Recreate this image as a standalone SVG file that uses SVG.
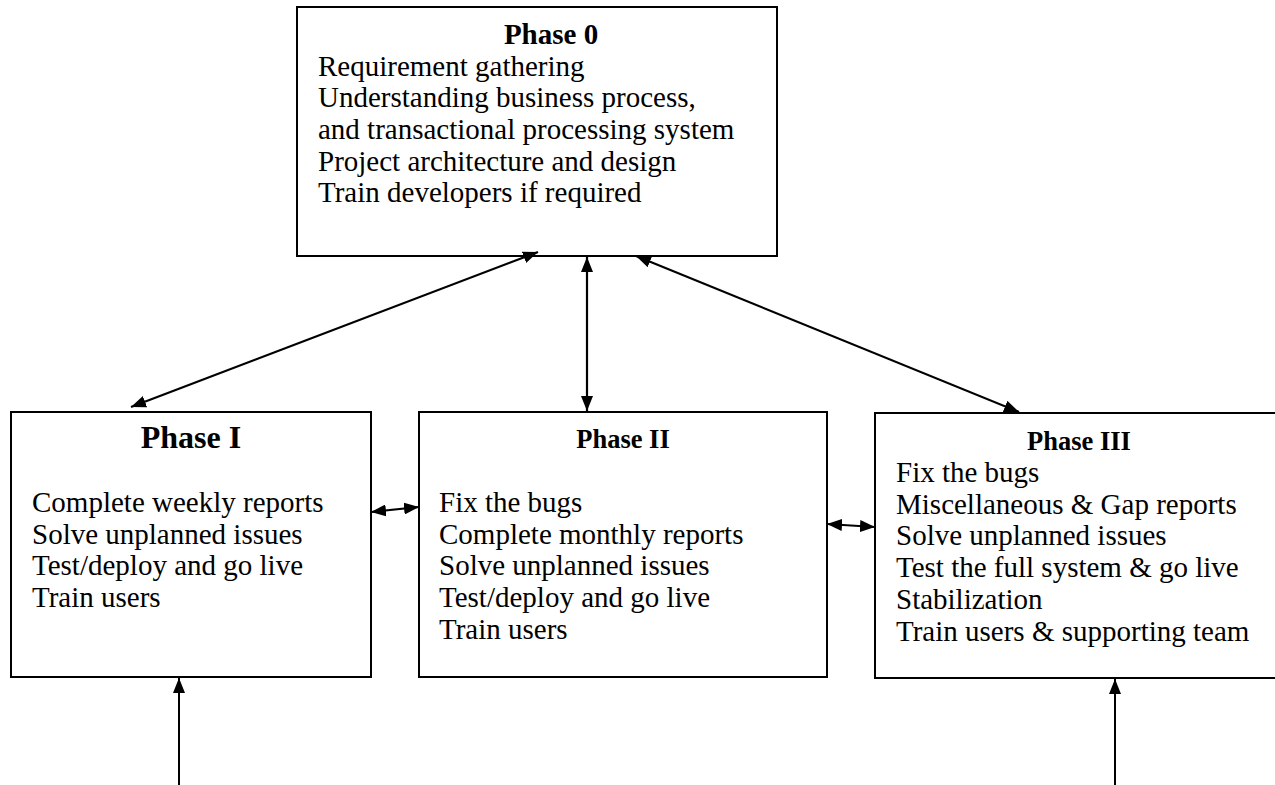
<svg xmlns="http://www.w3.org/2000/svg" width="1275" height="785" viewBox="0 0 1275 785">
<style>
  .box { fill: #ffffff; stroke: #000000; stroke-width: 2; }
  .t { font-family: "Liberation Serif", "Times New Roman", serif; font-size: 29px; fill: #000000; }
  .h { font-family: "Liberation Serif", "Times New Roman", serif; font-weight: bold; fill: #000000; text-anchor: middle; }
  .c { stroke: #000000; stroke-width: 2.2; fill: none; marker-start: url(#ah); marker-end: url(#ah); }
  .u { stroke: #000000; stroke-width: 2; fill: none; marker-end: url(#ah); }
</style>
<defs>
  <marker id="ah" markerUnits="userSpaceOnUse" markerWidth="16" markerHeight="12" refX="15" refY="6" orient="auto-start-reverse" viewBox="0 0 16 12">
    <path d="M0,0 L15,6 L0,12 z" fill="#000000"/>
  </marker>
</defs>
<rect width="1275" height="785" fill="#ffffff"/>

<g id="phase0">
  <rect class="box" x="297" y="7" width="480" height="249"/>
  <text class="h" x="551" y="44" font-size="29">Phase 0</text>
  <text class="t" x="318" y="75.5">Requirement gathering</text>
  <text class="t" x="318" y="107">Understanding business process,</text>
  <text class="t" x="318" y="139">and transactional processing system</text>
  <text class="t" x="318" y="170.5">Project architecture and design</text>
  <text class="t" x="318" y="202">Train developers if required</text>
</g>

<g id="phase1">
  <rect class="box" x="11" y="412" width="360" height="265"/>
  <text class="h" x="191" y="448" font-size="32">Phase I</text>
  <text class="t" x="32" y="512">Complete weekly reports</text>
  <text class="t" x="32" y="543.5">Solve unplanned issues</text>
  <text class="t" x="32" y="575">Test/deploy and go live</text>
  <text class="t" x="32" y="607">Train users</text>
</g>

<g id="phase2">
  <rect class="box" x="419" y="412" width="408" height="265"/>
  <text class="h" x="623" y="448" font-size="26.5">Phase II</text>
  <text class="t" x="439" y="512">Fix the bugs</text>
  <text class="t" x="439" y="543.5">Complete monthly reports</text>
  <text class="t" x="439" y="575">Solve unplanned issues</text>
  <text class="t" x="439" y="607">Test/deploy and go live</text>
  <text class="t" x="439" y="638.5">Train users</text>
</g>

<g id="phase3">
  <rect class="box" x="875" y="413" width="410" height="265"/>
  <text class="h" x="1079" y="450" font-size="26.5">Phase III</text>
  <text class="t" x="896" y="482">Fix the bugs</text>
  <text class="t" x="896" y="513.5">Miscellaneous &amp; Gap reports</text>
  <text class="t" x="896" y="545">Solve unplanned issues</text>
  <text class="t" x="896" y="577">Test the full system &amp; go live</text>
  <text class="t" x="896" y="609">Stabilization</text>
  <text class="t" x="896" y="641">Train users &amp; supporting team</text>
</g>

<g id="connectors">
  <line class="c" x1="538" y1="252" x2="131" y2="407"/>
  <line class="c" x1="587" y1="257" x2="587" y2="411"/>
  <line class="c" x1="636" y1="256" x2="1019" y2="412"/>
  <line class="c" x1="371" y1="512" x2="419" y2="507"/>
  <line class="c" x1="827" y1="524" x2="875" y2="527"/>
  <line class="u" x1="179" y1="785" x2="179" y2="678"/>
  <line class="u" x1="1115" y1="785" x2="1115" y2="679"/>
</g>
</svg>
